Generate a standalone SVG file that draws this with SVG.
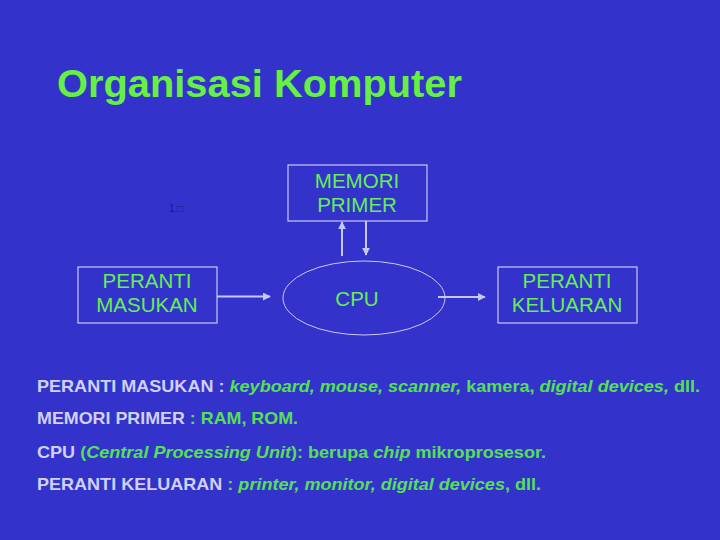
<svg xmlns="http://www.w3.org/2000/svg" width="720" height="540" viewBox="0 0 720 540">
<defs>
<style>
.box{fill:none;stroke:#C8C8F0;stroke-width:1.2}
.lbl{font-family:"Liberation Sans",Arial,sans-serif;font-size:20.5px;fill:#66EE55;text-anchor:middle}
.con{stroke:#C8C8F8;stroke-width:2;fill:none}
.body{font-family:"Liberation Sans",Arial,sans-serif;font-size:17px;font-weight:bold}
.lt{fill:#D0D0F8}
.gr{fill:#55E055}
.it{font-style:italic}
</style>
<marker id="ah" viewBox="0 0 10 10" refX="9" refY="5" markerWidth="4" markerHeight="4" orient="auto-start-reverse">
<path d="M0,0 L10,5 L0,10 z" fill="#C8C8F8"/>
</marker>
</defs>
<rect width="720" height="540" fill="#3333CC"/>
<text x="57" y="97" font-family="Liberation Sans,Arial,sans-serif" font-size="38" font-weight="bold" fill="#66F044" textLength="405" lengthAdjust="spacingAndGlyphs">Organisasi Komputer</text>
<text x="169" y="212" font-family="Liberation Sans,Arial,sans-serif" font-size="10" fill="#1A1A7A">1.□</text>

<g id="memori">
<rect class="box" x="288" y="165" width="139" height="56"/>
<text class="lbl" x="357" y="188">MEMORI</text>
<text class="lbl" x="357" y="212">PRIMER</text>
</g>
<g id="masukan">
<rect class="box" x="78" y="267" width="139" height="56"/>
<text class="lbl" x="147" y="288">PERANTI</text>
<text class="lbl" x="147" y="312">MASUKAN</text>
</g>
<g id="cpu">
<ellipse cx="364" cy="298" rx="81" ry="37" fill="none" stroke="#C8C8F0" stroke-width="1"/>
<text class="lbl" x="357" y="306">CPU</text>
</g>
<g id="keluaran">
<rect class="box" x="498" y="267" width="139" height="56"/>
<text class="lbl" x="567" y="288">PERANTI</text>
<text class="lbl" x="567" y="312">KELUARAN</text>
</g>
<g id="connectors">
<line class="con" x1="217" y1="296.5" x2="270" y2="296.5" marker-end="url(#ah)"/>
<line class="con" x1="342" y1="256" x2="342" y2="222" marker-end="url(#ah)"/>
<line class="con" x1="366" y1="221" x2="366" y2="255" marker-end="url(#ah)"/>
<line class="con" x1="438" y1="297" x2="485" y2="297" marker-end="url(#ah)"/>
</g>

<text class="body" x="37" y="392" textLength="663" lengthAdjust="spacingAndGlyphs"><tspan class="lt">PERANTI MASUKAN : </tspan><tspan class="gr it">keyboard, mouse, scanner, </tspan><tspan class="gr">kamera, </tspan><tspan class="gr it">digital devices, </tspan><tspan class="gr">dll.</tspan></text>
<text class="body" x="37" y="424" textLength="261" lengthAdjust="spacingAndGlyphs"><tspan class="lt">MEMORI PRIMER </tspan><tspan class="gr">: RAM, ROM.</tspan></text>
<text class="body" x="37" y="458" textLength="509" lengthAdjust="spacingAndGlyphs"><tspan class="lt">CPU </tspan><tspan class="gr">(</tspan><tspan class="gr it">Central Processing Unit</tspan><tspan class="gr">): berupa </tspan><tspan class="gr it">chip</tspan><tspan class="gr"> mikroprosesor.</tspan></text>
<text class="body" x="37" y="490" textLength="504" lengthAdjust="spacingAndGlyphs"><tspan class="lt">PERANTI KELUARAN </tspan><tspan class="gr">: </tspan><tspan class="gr it">printer, monitor, digital devices</tspan><tspan class="gr">, dll.</tspan></text>
</svg>
